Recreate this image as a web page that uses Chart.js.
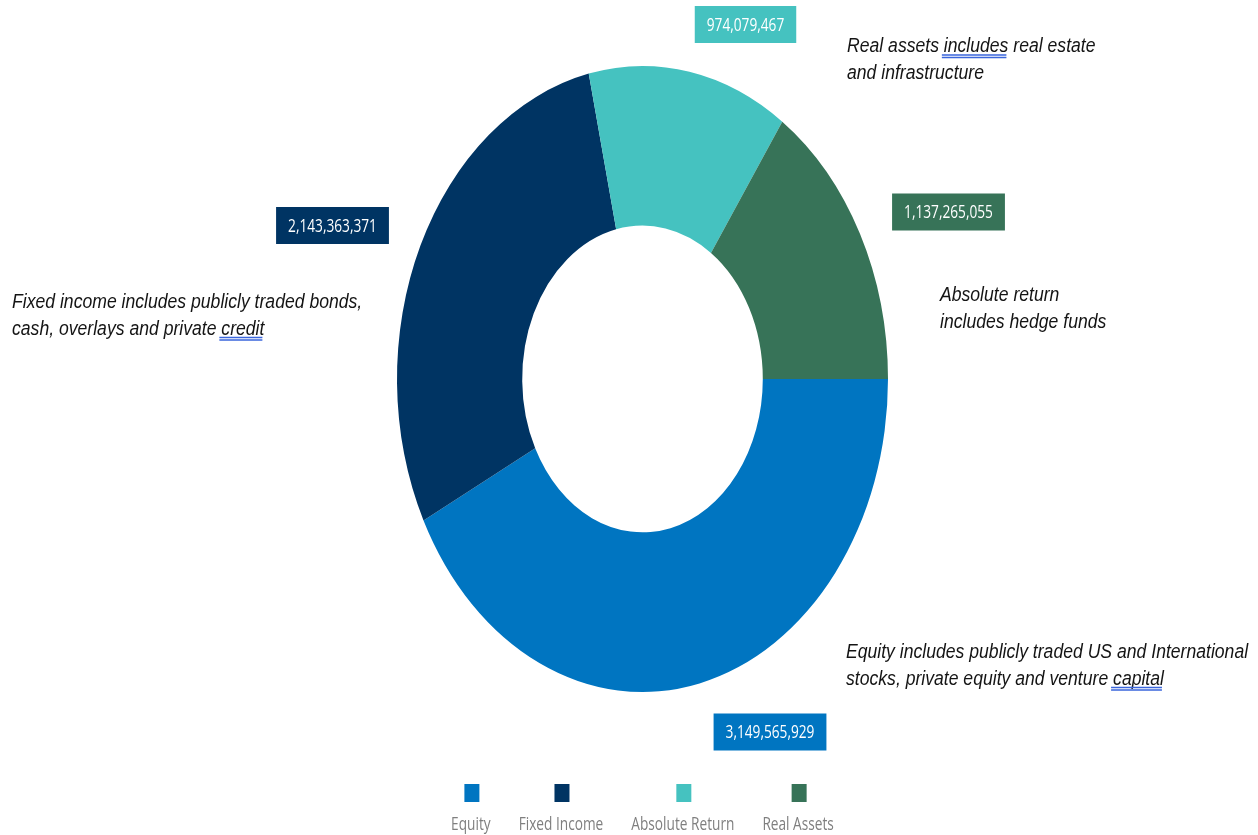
<!DOCTYPE html>
<html>
<head>
<meta charset="utf-8">
<script src="https://cdn.jsdelivr.net/npm/chart.js@4.4.0/dist/chart.umd.min.js"></script>
<style>
  html, body { margin: 0; padding: 0; background: #fff; }
  canvas { display: block; }
</style>
</head>
<body>
<canvas id="chart" width="1258" height="835"></canvas>
<script>
const categories = ['Equity', 'Fixed Income', 'Absolute Return', 'Real Assets'];
const values = [3149565929, 2143363371, 974079467, 1137265055];
const colors = ['#0075C1', '#003463', '#45C2C0', '#377358'];

// where each value box sits (centre), same order as categories
const boxSpots = [[770, 732], [332.5, 225.5], [745.5, 24.5], [948.5, 212]];

// side notes, each line with its baseline; "mark" = word with the blue double underline
const notes = [
  { x: 847, y: 52, lines: ['Real assets includes real estate', 'and infrastructure'], mark: [0, 'includes'] },
  { x: 12, y: 308, lines: ['Fixed income includes publicly traded bonds,', 'cash, overlays and private credit'], mark: [1, 'credit'] },
  { x: 940, y: 301, lines: ['Absolute return', 'includes hedge funds'] },
  { x: 846, y: 658, lines: ['Equity includes publicly traded US and International', 'stocks, private equity and venture capital'], mark: [1, 'capital'] }
];

const RING_STRETCH = 313 / 245.5;   // ring is drawn taller than wide
const UI_FONT = '18px "Open Sans", "Noto Sans", sans-serif';
const UI_SQUEEZE = 0.76;
const NOTE_FONT = 'italic 20px "Liberation Sans", Arial, sans-serif';
const NOTE_SQUEEZE = 0.88;
const NOTE_LEADING = 26.5;

function squeezed(c, text, x, y, sx, align) {
  c.save();
  c.translate(x, y);
  c.scale(sx, 1);
  c.textAlign = align;
  c.fillText(text, 0, 0);
  c.restore();
}

const ellipse = {
  id: 'ellipse',
  beforeDatasetsDraw(chart) {
    const arc = chart.getDatasetMeta(0).data[0];
    const c = chart.ctx;
    c.save();
    c.translate(arc.x, arc.y);
    c.scale(1, RING_STRETCH);
    c.translate(-arc.x, -arc.y);
  },
  afterDatasetsDraw(chart) {
    chart.ctx.restore();
  }
};

const valueBoxes = {
  id: 'valueBoxes',
  afterDraw(chart) {
    const c = chart.ctx;
    c.save();
    c.font = UI_FONT;
    c.textBaseline = 'middle';
    chart.data.datasets[0].data.forEach((v, i) => {
      const text = v.toLocaleString('en-US');
      const [x, y] = boxSpots[i];
      const w = c.measureText(text).width * UI_SQUEEZE + 24;
      const h = 37;
      c.fillStyle = colors[i];
      c.fillRect(x - w / 2, y - h / 2, w, h);
      c.fillStyle = '#ffffff';
      squeezed(c, text, x, y + 1, UI_SQUEEZE, 'center');
    });
    c.restore();
  }
};

// legend row under the ring: swatch above each name, centred on the ring
const legendRow = {
  id: 'legendRow',
  afterDraw(chart) {
    const c = chart.ctx;
    const labels = chart.data.labels;
    const gap = 28;
    const centre = chart.getDatasetMeta(0).data[0].x;
    c.save();
    c.font = UI_FONT;
    c.textBaseline = 'alphabetic';
    const widths = labels.map(t => c.measureText(t).width * UI_SQUEEZE);
    const total = widths.reduce((a, b) => a + b, 0) + gap * (labels.length - 1);
    let x = centre - total / 2;
    labels.forEach((t, i) => {
      const mid = x + widths[i] / 2;
      c.fillStyle = colors[i];
      c.fillRect(mid - 6.5, 784, 15, 18);
      c.fillStyle = '#7f7f7f';
      squeezed(c, t, mid, 830, UI_SQUEEZE, 'center');
      x += widths[i] + gap;
    });
    c.restore();
  }
};

const sideNotes = {
  id: 'sideNotes',
  afterDraw(chart) {
    const c = chart.ctx;
    c.save();
    c.font = NOTE_FONT;
    c.textBaseline = 'alphabetic';
    notes.forEach(n => {
      n.lines.forEach((line, k) => {
        const y = n.y + k * NOTE_LEADING;
        c.fillStyle = '#141414';
        squeezed(c, line, n.x, y, NOTE_SQUEEZE, 'left');
        if (n.mark && n.mark[0] === k) {
          const at = line.indexOf(n.mark[1]);
          const x0 = n.x + c.measureText(line.slice(0, at)).width * NOTE_SQUEEZE - 2;
          const w = c.measureText(n.mark[1]).width * NOTE_SQUEEZE;
          c.strokeStyle = '#3a66dc';
          c.lineWidth = 1.4;
          c.beginPath();
          c.moveTo(x0, y + 3); c.lineTo(x0 + w, y + 3);
          c.moveTo(x0, y + 5.5); c.lineTo(x0 + w, y + 5.5);
          c.stroke();
        }
      });
    });
    c.restore();
  }
};

new Chart(document.getElementById('chart').getContext('2d'), {
  type: 'doughnut',
  data: {
    labels: categories,
    datasets: [{
      data: values,
      backgroundColor: colors,
      borderWidth: 0,
      hoverOffset: 0,
      clip: false
    }]
  },
  options: {
    responsive: false,
    animation: false,
    rotation: 90,
    cutout: '49%',
    layout: { padding: { left: 397, right: 370, top: 133.5, bottom: 210.5 } },
    plugins: {
      legend: { display: false },
      tooltip: { enabled: false }
    }
  },
  plugins: [ellipse, valueBoxes, legendRow, sideNotes]
});
</script>
</body>
</html>
